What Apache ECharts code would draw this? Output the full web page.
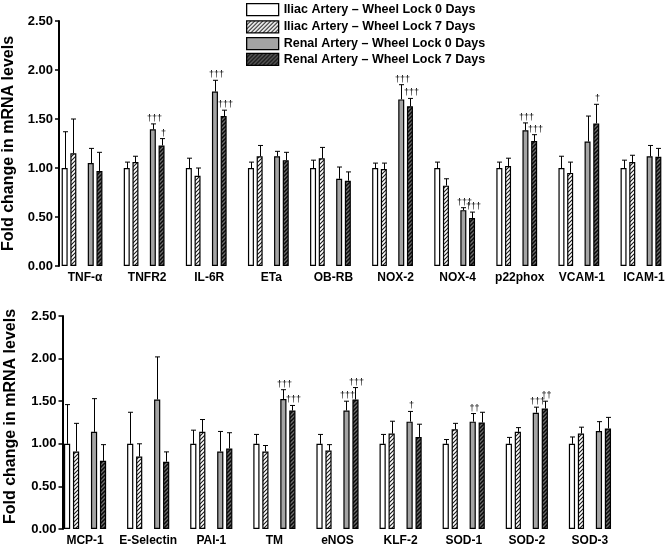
<!DOCTYPE html>
<html>
<head>
<meta charset="utf-8">
<script src="https://cdn.jsdelivr.net/npm/echarts@6/dist/echarts.min.js"></script>
<style>
html, body { margin: 0; padding: 0; background: #fff; }
#chart { width: 666px; height: 546px; }
</style>
</head>
<body>
<div id="chart"></div>
<script>
// top panel
const topCats = ['TNF-α', 'TNFR2', 'IL-6R', 'ETa', 'OB-RB', 'NOX-2', 'NOX-4', 'p22phox', 'VCAM-1', 'ICAM-1']
const topIliac0 = [1, 1, 1, 1, 1, 1, 1, 1, 1, 1]
const topIliac0Err = [1.37, 1.06, 1.10, 1.06, 1.08, 1.05, 1.06, 1.06, 1.12, 1.08]
const topIliac7 = [1.15, 1.06, 0.92, 1.12, 1.10, 0.99, 0.82, 1.02, 0.95, 1.06]
const topIliac7Err = [1.50, 1.12, 1.00, 1.23, 1.21, 1.05, 0.89, 1.10, 1.06, 1.13]
const topRenal0 = [1.05, 1.395, 1.78, 1.12, 0.89, 1.70, 0.57, 1.385, 1.27, 1.12]
const topRenal0Err = [1.20, 1.45, 1.895, 1.17, 1.01, 1.85, 0.595, 1.46, 1.53, 1.23]
const topRenal7 = [0.97, 1.23, 1.53, 1.08, 0.87, 1.63, 0.49, 1.275, 1.455, 1.115]
const topRenal7Err = [1.16, 1.30, 1.59, 1.16, 0.96, 1.71, 0.55, 1.34, 1.65, 1.20]
const topRenal0Sig = ['', '†††', '†††', '', '', '†††', '†††', '†††', '', '']
const topRenal7Sig = ['', '†', '†††', '', '', '†††', '†††', '†††', '†', '']

// bottom panel
const botCats = ['MCP-1', 'E-Selectin', 'PAI-1', 'TM', 'eNOS', 'KLF-2', 'SOD-1', 'SOD-2', 'SOD-3']
const botIliac0 = [1, 1, 1, 1, 1, 1, 1, 1, 1]
const botIliac0Err = [1.46, 1.37, 1.16, 1.11, 1.11, 1.11, 1.05, 1.075, 1.08]
const botIliac7 = [0.91, 0.85, 1.14, 0.91, 0.92, 1.12, 1.17, 1.14, 1.12]
const botIliac7Err = [1.24, 1.00, 1.285, 0.98, 0.99, 1.265, 1.24, 1.19, 1.195]
const botRenal0 = [1.14, 1.52, 0.91, 1.525, 1.39, 1.26, 1.26, 1.365, 1.15]
const botRenal0Err = [1.53, 2.02, 1.145, 1.635, 1.50, 1.38, 1.355, 1.43, 1.26]
const botRenal7 = [0.80, 0.79, 0.945, 1.39, 1.52, 1.08, 1.25, 1.415, 1.18]
const botRenal7Err = [0.99, 0.905, 1.13, 1.45, 1.66, 1.23, 1.37, 1.50, 1.31]
const botRenal0Sig = ['', '', '', '†††', '†††', '†', '††', '†††', '']
const botRenal7Sig = ['', '', '', '†††', '†††', '', '', '††', '']

const groupNames = [
  'Iliac Artery – Wheel Lock 0 Days',
  'Iliac Artery – Wheel Lock 7 Days',
  'Renal Artery – Wheel Lock 0 Days',
  'Renal Artery – Wheel Lock 7 Days'
]

const FONT = '"Liberation Sans", Arial, sans-serif'

// diagonal hatch fill
function hatch(bg, fg, lw) {
  const c = document.createElement('canvas')
  c.width = 4
  c.height = 4
  const g = c.getContext('2d')
  g.fillStyle = bg
  g.fillRect(0, 0, 4, 4)
  g.strokeStyle = fg
  g.lineWidth = lw
  g.beginPath()
  g.moveTo(-1, 5); g.lineTo(5, -1)
  g.moveTo(-1, 1); g.lineTo(1, -1)
  g.moveTo(3, 5); g.lineTo(5, 3)
  g.stroke()
  return { image: c, repeat: 'repeat' }
}

const fills = [
  '#ffffff',
  hatch('#ffffff', '#1a1a1a', 1.1),
  '#a4a4a4',
  hatch('#6e6e6e', '#0a0a0a', 1.5)
]

const panels = [
  { cats: topCats, bw: 6, gap: '45%',
    vals: [topIliac0, topIliac7, topRenal0, topRenal7],
    errs: [topIliac0Err, topIliac7Err, topRenal0Err, topRenal7Err],
    sigs: [null, null, topRenal0Sig, topRenal7Sig] },
  { cats: botCats, bw: 6.2, gap: '45%',
    vals: [botIliac0, botIliac7, botRenal0, botRenal7],
    errs: [botIliac0Err, botIliac7Err, botRenal0Err, botRenal7Err],
    sigs: [null, null, botRenal0Sig, botRenal7Sig] }
]
const slots = [0, 1, 3, 4] // slot 2 is the empty space between the pairs

const series = []
panels.forEach((p, pi) => {
  for (let k = 0; k < 5; k++) {
    const gi = slots.indexOf(k)
    series.push({
      type: 'bar',
      name: gi >= 0 ? groupNames[gi] : 'spacer' + pi,
      xAxisIndex: pi,
      yAxisIndex: pi,
      data: gi >= 0 ? p.vals[gi] : p.cats.map(() => null),
      barWidth: p.bw,
      barGap: p.gap,
      silent: true,
      itemStyle: { color: gi >= 0 ? fills[gi] : 'transparent', borderColor: '#000', borderWidth: 1.2 }
    })
  }
  // error bars + significance marks
  slots.forEach((k, gi) => {
    const sig = p.sigs[gi]
    series.push({
      type: 'custom',
      xAxisIndex: pi,
      yAxisIndex: pi,
      silent: true,
      z: 5,
      data: p.cats.map((c, i) => [i, p.vals[gi][i], p.errs[gi][i]]),
      encode: { x: 0, y: [1, 2] },
      renderItem(params, api) {
        const ci = api.value(0)
        const lay = api.barLayout({ count: 5, barWidth: p.bw, barGap: p.gap })
        const off = lay[k].offsetCenter
        const a = api.coord([ci, api.value(1)])
        const b = api.coord([ci, api.value(2)])
        const x = Math.round(a[0] + off) + 0.5
        const children = [
          { type: 'line', shape: { x1: x, y1: a[1], x2: x, y2: b[1] }, style: { stroke: '#000', lineWidth: 1 } },
          { type: 'line', shape: { x1: x - 2.5, y1: b[1], x2: x + 2.5, y2: b[1] }, style: { stroke: '#000', lineWidth: 1 } }
        ]
        const s = sig ? sig[params.dataIndex] : ''
        if (s) {
          children.push({
            type: 'text',
            style: {
              text: s, x: x + 1, y: b[1] - 1,
              align: 'center', textAlign: 'center',
              verticalAlign: 'bottom', textVerticalAlign: 'bottom',
              font: '9px ' + FONT, fill: '#000'
            }
          })
        }
        return { type: 'group', children }
      }
    })
  })
})

function yAxis(gi, gapName, shift) {
  return {
    type: 'value',
    gridIndex: gi,
    min: 0,
    max: 2.5,
    interval: 0.5,
    offset: gi === 0 ? -8 : -9,
    name: 'Fold change in mRNA levels',
    nameLocation: 'middle',
    nameGap: gapName,
    nameTextStyle: { fontFamily: FONT, fontWeight: 'bold', fontSize: 16, color: '#000', padding: [0, 0, 0, shift] },
    axisLine: { show: true, lineStyle: { color: '#000', width: 2 } },
    axisTick: { show: true, length: 4, lineStyle: { color: '#000', width: 1.5 } },
    splitLine: { show: false },
    axisLabel: {
      margin: 6,
      fontFamily: FONT, fontWeight: 'bold', fontSize: 13, color: '#000',
      formatter: v => v.toFixed(2)
    }
  }
}

function xAxis(gi, cats, pad) {
  return {
    type: 'category',
    gridIndex: gi,
    data: cats,
    axisLine: { show: false },
    axisTick: { show: false },
    axisLabel: {
      interval: 0,
      margin: 6, padding: pad,
      fontFamily: FONT, fontWeight: 'bold', fontSize: 12, color: '#000'
    }
  }
}

const legendText = { fontFamily: FONT, fontWeight: 'bold', fontSize: 12.5, color: '#000', lineHeight: 12 }

const option = {
  animation: false,
  backgroundColor: '#fff',
  legend: [
    { data: groupNames.slice(0, 2), orient: 'vertical', left: 246, top: 3,
      itemWidth: 32, itemHeight: 12, itemGap: 4, selectedMode: false, padding: 0,
      icon: 'rect', itemStyle: { borderColor: '#000', borderWidth: 1.3 }, textStyle: legendText },
    { data: groupNames.slice(2, 4), orient: 'vertical', left: 246, top: 37,
      itemWidth: 32, itemHeight: 12, itemGap: 2.5, selectedMode: false, padding: 0,
      icon: 'rect', itemStyle: { borderColor: '#000', borderWidth: 1.3 }, textStyle: legendText }
  ],
  grid: [
    { left: 51, top: 21, width: 621, height: 245, outerBoundsMode: 'none' },
    { left: 53.5, top: 316, width: 568, height: 213, outerBoundsMode: 'none' }
  ],
  xAxis: [xAxis(0, topCats, [0, 0, 0, 6]), xAxis(1, botCats, 0)],
  yAxis: [yAxis(0, 40, 0), yAxis(1, 44, 12)],
  series
}

const chart = echarts.init(document.getElementById('chart'))
chart.setOption(option)
</script>
</body>
</html>
